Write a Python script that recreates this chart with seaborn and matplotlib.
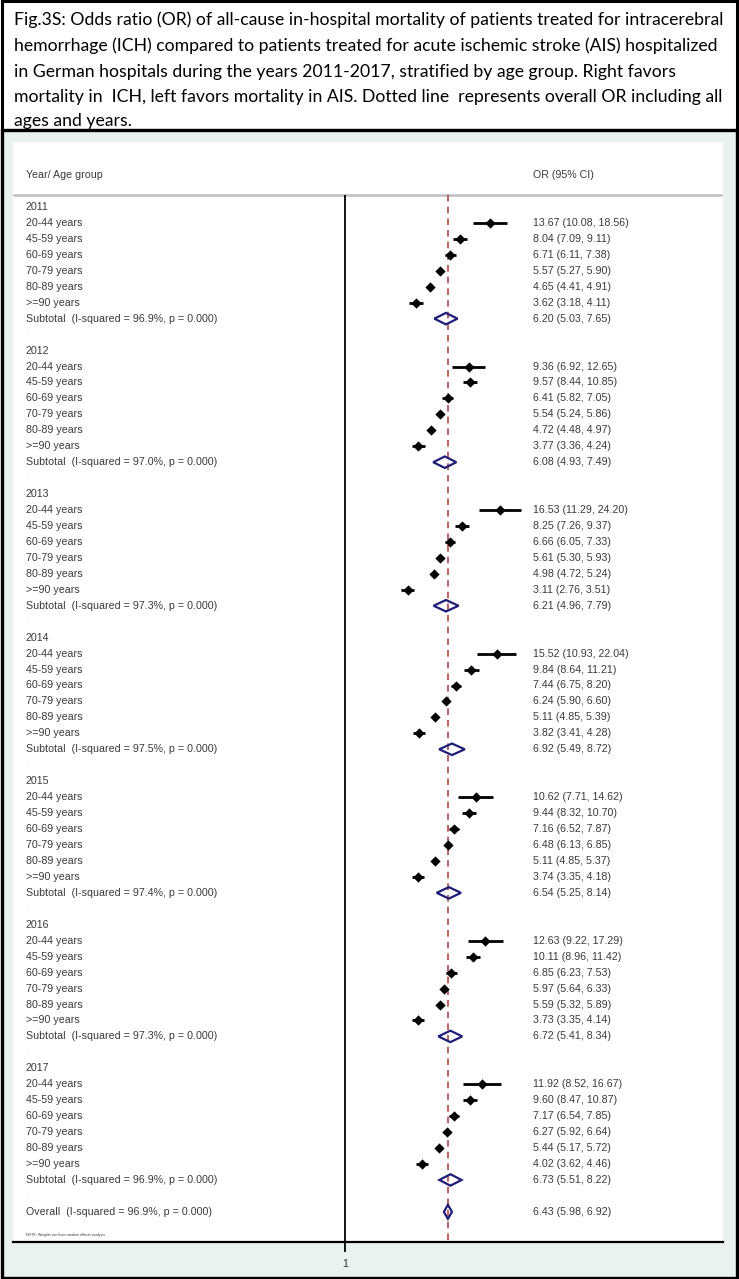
import numpy as np
import pandas as pd
import matplotlib
matplotlib.use("Agg")
import matplotlib.pyplot as plt
import matplotlib.transforms as mtransforms
from matplotlib.patches import Rectangle, Polygon
import seaborn as sns

# ---------------- data ----------------
years = [2011, 2012, 2013, 2014, 2015, 2016, 2017]
age_groups = ["20-44 years", "45-59 years", "60-69 years", "70-79 years",
              "80-89 years", ">=90 years"]

or_2011 = [13.67, 8.04, 6.71, 5.57, 4.65, 3.62]
lo_2011 = [10.08, 7.09, 6.11, 5.27, 4.41, 3.18]
hi_2011 = [18.56, 9.11, 7.38, 5.90, 4.91, 4.11]

or_2012 = [9.36, 9.57, 6.41, 5.54, 4.72, 3.77]
lo_2012 = [6.92, 8.44, 5.82, 5.24, 4.48, 3.36]
hi_2012 = [12.65, 10.85, 7.05, 5.86, 4.97, 4.24]

or_2013 = [16.53, 8.25, 6.66, 5.61, 4.98, 3.11]
lo_2013 = [11.29, 7.26, 6.05, 5.30, 4.72, 2.76]
hi_2013 = [24.20, 9.37, 7.33, 5.93, 5.24, 3.51]

or_2014 = [15.52, 9.84, 7.44, 6.24, 5.11, 3.82]
lo_2014 = [10.93, 8.64, 6.75, 5.90, 4.85, 3.41]
hi_2014 = [22.04, 11.21, 8.20, 6.60, 5.39, 4.28]

or_2015 = [10.62, 9.44, 7.16, 6.48, 5.11, 3.74]
lo_2015 = [7.71, 8.32, 6.52, 6.13, 4.85, 3.35]
hi_2015 = [14.62, 10.70, 7.87, 6.85, 5.37, 4.18]

or_2016 = [12.63, 10.11, 6.85, 5.97, 5.59, 3.73]
lo_2016 = [9.22, 8.96, 6.23, 5.64, 5.32, 3.35]
hi_2016 = [17.29, 11.42, 7.53, 6.33, 5.89, 4.14]

or_2017 = [11.92, 9.60, 7.17, 6.27, 5.44, 4.02]
lo_2017 = [8.52, 8.47, 6.54, 5.92, 5.17, 3.62]
hi_2017 = [16.67, 10.87, 7.85, 6.64, 5.72, 4.46]

sub_or = [6.20, 6.08, 6.21, 6.92, 6.54, 6.72, 6.73]
sub_lo = [5.03, 4.93, 4.96, 5.49, 5.25, 5.41, 5.51]
sub_hi = [7.65, 7.49, 7.79, 8.72, 8.14, 8.34, 8.22]
sub_isq = [96.9, 97.0, 97.3, 97.5, 97.4, 97.3, 96.9]

overall_or = 6.43
overall_lo = 5.98
overall_hi = 6.92
overall_isq = 96.9

caption_lines = [
    "Fig.3S: Odds ratio (OR) of all-cause in-hospital mortality of patients treated for intracerebral",
    "hemorrhage (ICH) compared to patients treated for acute ischemic stroke (AIS) hospitalized",
    "in German hospitals during the years 2011-2017, stratified by age group. Right favors",
    "mortality in  ICH, left favors mortality in AIS. Dotted line  represents overall OR including all",
    "ages and years.",
]

# ---------------- assemble ----------------
ors = [or_2011, or_2012, or_2013, or_2014, or_2015, or_2016, or_2017]
los = [lo_2011, lo_2012, lo_2013, lo_2014, lo_2015, lo_2016, lo_2017]
his = [hi_2011, hi_2012, hi_2013, hi_2014, hi_2015, hi_2016, hi_2017]

recs = []
for i, yr in enumerate(years):
    for j, ag in enumerate(age_groups):
        recs.append(dict(year=yr, age=ag, OR=ors[i][j], lo=los[i][j],
                         hi=his[i][j], row=9 * i + 1 + j))
df = pd.DataFrame(recs)

sns.set_theme(style="white")
plt.rcParams["font.family"] = ["Liberation Sans", "DejaVu Sans"]

W, H = 739, 1279
fig = plt.figure(figsize=(W / 100, H / 100), dpi=100)
fig.patch.set_facecolor("white")


def fx(px):
    return px / W


def fy(py):
    return 1 - py / H


# caption box
fig.patches.append(Rectangle((fx(1.5), fy(130)), fx(735.5), 129 / H,
                             transform=fig.transFigure, facecolor="white",
                             edgecolor="black", linewidth=2.2, zorder=-2))
# graph box
fig.patches.append(Rectangle((fx(1.5), fy(1277.5)), fx(735.5), 1147.5 / H,
                             transform=fig.transFigure, facecolor="#eaf1f1",
                             edgecolor="black", linewidth=2.4, zorder=-2))

cap_y = [20, 46, 72, 97, 121]
for txt, yy in zip(caption_lines, cap_y):
    fig.text(fx(14), fy(yy), txt, ha="left", va="center", fontsize=12.7,
             family=["Lato", "DejaVu Sans"], color="black")

# plot axes = white plot region
ax_l, ax_r, ax_t, ax_b = 13, 723, 142, 1242
ax = fig.add_axes([fx(ax_l), fy(ax_b), (ax_r - ax_l) / W, (ax_b - ax_t) / H])
ax.set_zorder(2)
ax.set_facecolor("white")

rowpx = 15.95
x1px = 345
pxln = 55.3
ax.set_xscale("log")
row_top = -(207 - ax_t) / rowpx
row_bot = row_top + (ax_b - ax_t) / rowpx

line_top = -(207 - 195) / rowpx
# header separator
ax.axhline(line_top, color="#c4c4c4", lw=2.0, xmin=1 / 710, xmax=708 / 710, zorder=1)
# null line
ax.vlines(1, line_top, row_bot, color="black", lw=1.3, zorder=2)
# overall dashed line
ax.vlines(overall_or, line_top, row_bot, color="#b04848", lw=1.2,
          linestyles=(0, (4.0, 3.0)), zorder=4)

# CIs and points
ax.hlines(df["row"], df["lo"], df["hi"], color="black", lw=2.0, zorder=3)
sns.scatterplot(data=df, x="OR", y="row", marker="D", s=24, color="black",
                edgecolor="black", linewidth=0.3, ax=ax, zorder=5, legend=False)

ax.set_xlim(np.exp(-(x1px - ax_l) / pxln), np.exp((ax_r - x1px) / pxln))
ax.set_ylim(row_bot, row_top)
for s in ["top", "left", "right"]:
    ax.spines[s].set_visible(False)
ax.spines["bottom"].set_visible(True)
ax.spines["bottom"].set_color("black")
ax.spines["bottom"].set_linewidth(1.6)
ax.set_xticks([1])
ax.set_xticklabels(["1"])
ax.xaxis.set_minor_locator(matplotlib.ticker.NullLocator())
ax.tick_params(axis="x", which="major", direction="out", length=7.5, width=1.3,
               color="black", labelsize=7.7, labelcolor="#333333", pad=5,
               bottom=True)
ax.set_yticks([])
ax.set_xlabel("")
ax.set_ylabel("")

navy = "#1e1e78"


def diamond(o, l, h, r, hh):
    poly = Polygon([(l, r), (o, r - hh), (h, r), (o, r + hh)], closed=True,
                   facecolor="none", edgecolor=navy, lw=1.6, zorder=5,
                   joinstyle="miter")
    ax.add_patch(poly)


blend = mtransforms.blended_transform_factory(ax.transAxes, ax.transData)
lab_x = (26 - ax_l) / (ax_r - ax_l)
or_x = (533 - ax_l) / (ax_r - ax_l)
fs = 7.7
tc = "#3a3a3a"

ax.text(lab_x, -2, "Year/ Age group", transform=blend, ha="left", va="center",
        fontsize=fs, color=tc)
ax.text(or_x, -2, "OR (95% CI)", transform=blend, ha="left", va="center",
        fontsize=fs, color=tc)

for i, yr in enumerate(years):
    base = 9 * i
    ax.text(lab_x, base, str(yr), transform=blend, ha="left", va="center",
            fontsize=fs, color=tc)
    for j, ag in enumerate(age_groups):
        r = base + 1 + j
        ax.text(lab_x, r, ag, transform=blend, ha="left", va="center",
                fontsize=fs, color=tc)
        ax.text(or_x, r, f"{ors[i][j]:.2f} ({los[i][j]:.2f}, {his[i][j]:.2f})",
                transform=blend, ha="left", va="center", fontsize=fs, color=tc)
    r = base + 7
    ax.text(lab_x, r, f"Subtotal  (I-squared = {sub_isq[i]:.1f}%, p = 0.000)",
            transform=blend, ha="left", va="center", fontsize=fs, color=tc)
    ax.text(or_x, r, f"{sub_or[i]:.2f} ({sub_lo[i]:.2f}, {sub_hi[i]:.2f})",
            transform=blend, ha="left", va="center", fontsize=fs, color=tc)
    diamond(sub_or[i], sub_lo[i], sub_hi[i], r, 0.36)
    ax.text(lab_x, base + 8 - 0.2, ".", transform=blend, ha="left", va="center",
            fontsize=fs, color="#d0d0d0")

r_over = 63
ax.text(lab_x, r_over, f"Overall  (I-squared = {overall_isq:.1f}%, p = 0.000)",
        transform=blend, ha="left", va="center", fontsize=fs, color=tc)
ax.text(or_x, r_over, f"{overall_or:.2f} ({overall_lo:.2f}, {overall_hi:.2f})",
        transform=blend, ha="left", va="center", fontsize=fs, color=tc)
diamond(overall_or, overall_lo, overall_hi, r_over, 0.44)

ax.text(lab_x, r_over + (1235 - 1212) / rowpx,
        "NOTE: Weights are from random effects analysis", transform=blend,
        ha="left", va="center", fontsize=2.6, color=tc)

fig.savefig("out.png", dpi=100, facecolor=fig.get_facecolor())
